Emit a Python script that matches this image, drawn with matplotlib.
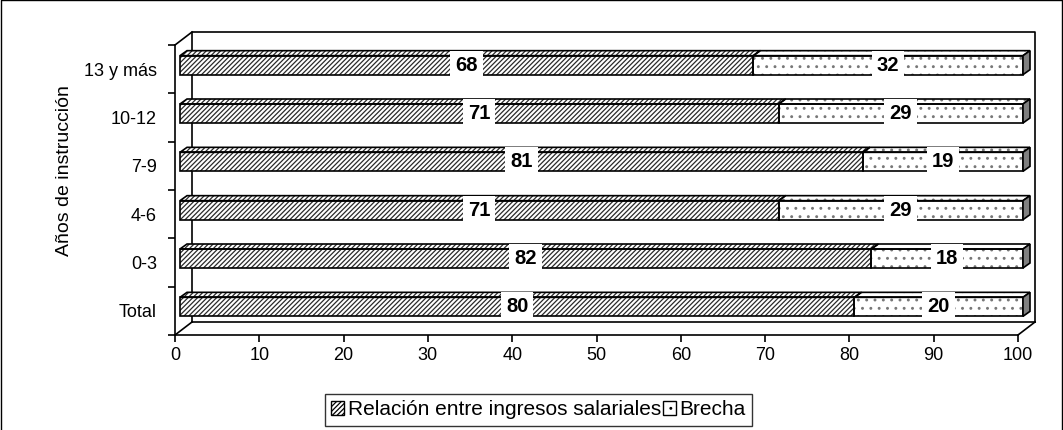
import matplotlib.pyplot as plt
from matplotlib.patches import Polygon, Patch
from matplotlib.transforms import ScaledTranslation
from matplotlib.lines import Line2D

# Datos
categorias = ['Total', '0-3', '4-6', '7-9', '10-12', '13 y más']
relacion = [80, 82, 71, 81, 71, 68]
brecha = [20, 18, 29, 19, 29, 32]

plt.rcParams['font.family'] = ['Liberation Sans', 'DejaVu Sans']
plt.rcParams['hatch.linewidth'] = 0.9

fig = plt.figure(figsize=(10.63, 4.30), dpi=100)
ax = fig.add_axes([175 / 1063, 95 / 430, 843 / 1063, 290 / 430])
n = len(categorias)
ax.set_xlim(0, 100)
ax.set_ylim(-0.5, n - 0.5)

# pixeles -> unidades de datos
px_x = 100 / 843
px_y = n / 290
sx, sy = 5 * px_x, 4 * px_y          # desplazamiento de las barras
alto = 19 * px_y                      # alto de la cara frontal
dx, dy = 7 * px_x, 5 * px_y           # profundidad de la barra

# el color de la trama sigue al color del borde: relleno sin borde + contorno aparte
rayas = dict(hatch='///////', edgecolor='#2a2a2a')
puntos = dict(hatch='..', edgecolor='#777777')


def caja(verts, estilo):
    ax.add_patch(Polygon(verts, closed=True, facecolor='white', lw=0,
                         clip_on=False, zorder=3, **estilo))
    ax.add_patch(Polygon(verts, closed=True, fill=False, edgecolor='black', lw=1.2,
                         clip_on=False, zorder=4))


for i, (r, b) in enumerate(zip(relacion, brecha)):
    y = i + sy
    y0, y1 = y - alto / 2, y + alto / 2
    for x0, x1, estilo in [(sx, sx + r, rayas), (sx + r, sx + r + b, puntos)]:
        caja([(x0, y0), (x1, y0), (x1, y1), (x0, y1)], estilo)
        caja([(x0, y1), (x1, y1), (x1 + dx, y1 + dy), (x0 + dx, y1 + dy)], estilo)
    fin = sx + r + b
    ax.add_patch(Polygon([(fin, y0), (fin, y1), (fin + dx, y1 + dy), (fin + dx, y0 + dy)],
                         closed=True, facecolor='#808080', edgecolor='black', lw=1.2,
                         clip_on=False, zorder=4))
    for x, v in [(sx + r / 2, r), (sx + r + b / 2, b)]:
        ax.text(x, y, str(v), ha='center', va='center', fontsize=14.5, fontweight='bold',
                bbox=dict(facecolor='white', edgecolor='none', boxstyle='square,pad=0.25'),
                zorder=5)

# Paredes 3D
fondo = ax.transAxes + ScaledTranslation(0.17, 0.13, fig.dpi_scale_trans)
for xs, ys in [([0, 0, 1, 1], [0, 1, 1, 0]), ([0, 1], [0, 0])]:
    ax.add_line(Line2D(xs, ys, transform=fondo, color='black', lw=1.2, clip_on=False, zorder=1))
for px, py in [(0, 1), (0, 0), (1, 0)]:
    p0 = ax.transAxes.transform((px, py))
    p1 = fondo.transform((px, py))
    ax.add_line(Line2D([p0[0], p1[0]], [p0[1], p1[1]], transform=None,
                       color='black', lw=1.2, clip_on=False, zorder=1))

for s in ['top', 'right']:
    ax.spines[s].set_visible(False)
for s in ['left', 'bottom']:
    ax.spines[s].set_linewidth(1.2)

ax.set_xticks(range(0, 101, 10))
ax.set_yticks(range(n))
ax.set_yticklabels(categorias, fontsize=13)
ax.set_yticks([i - 0.5 for i in range(n + 1)], minor=True)
ax.tick_params(axis='y', which='major', length=0, pad=13)
ax.tick_params(axis='y', which='minor', length=5, width=1.2)
ax.tick_params(axis='x', length=5, width=1.2, labelsize=13, pad=4)

ax.set_ylabel('Años de instrucción', fontsize=14)
ax.yaxis.set_label_coords(-0.121, 0.566)

# Leyenda
handles = [Patch(facecolor='white', hatch='///////', edgecolor='black',
                 label='Relación entre ingresos salariales'),
           Patch(facecolor='white', hatch='..', edgecolor='black', label='Brecha')]
fig.legend(handles=handles, loc='center', bbox_to_anchor=(0.5066, 0.047), ncol=2,
           fontsize=15, frameon=True, fancybox=False, edgecolor='black',
           handlelength=0.6, handleheight=0.6, handletextpad=0.2, columnspacing=0.1,
           borderpad=0.3, borderaxespad=0)

# Marco de la figura
fig.add_artist(Line2D([0.0005, 0.0005, 0.999, 0.999], [0, 0.999, 0.999, 0],
                      transform=fig.transFigure, color='black', lw=1))

fig.savefig('out.png', dpi=100)
